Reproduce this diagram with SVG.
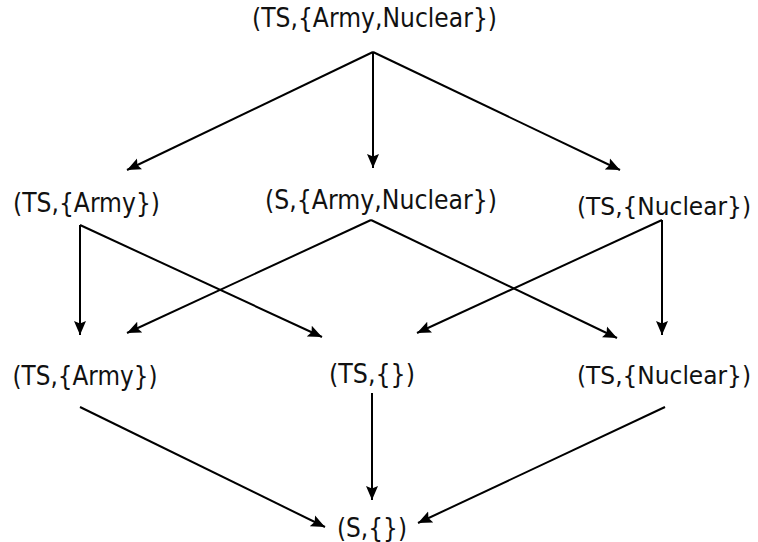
<svg xmlns="http://www.w3.org/2000/svg" width="758" height="542" viewBox="0 0 758 542">
  <style>
    .lbl { font-family: "DejaVu Sans", "Liberation Sans", sans-serif; font-size: 27px; fill: #111; text-anchor: middle; }
    .lbl.edge-side { font-size: 25px; }
    .edge { stroke: #000; stroke-width: 2; fill: none; marker-end: url(#head); }
  </style>
  <defs>
    <marker id="head" markerUnits="userSpaceOnUse" markerWidth="15" markerHeight="13" refX="14" refY="6.5" orient="auto">
      <path d="M0,0.5 L14,6.5 L0,12.5 L2.5,6.5 Z" fill="#000"/>
    </marker>
  </defs>
  <rect width="758" height="542" fill="#fff"/>

  <!-- lattice edges -->
  <g id="edges">
    <line class="edge" x1="373" y1="52" x2="127" y2="170"/>
    <line class="edge" x1="373" y1="52" x2="373" y2="168"/>
    <line class="edge" x1="373" y1="52" x2="620" y2="170"/>

    <line class="edge" x1="80" y1="225" x2="80" y2="335"/>
    <line class="edge" x1="80" y1="225" x2="322" y2="337"/>
    <line class="edge" x1="371" y1="220" x2="127" y2="333"/>
    <line class="edge" x1="371" y1="220" x2="617" y2="338"/>
    <line class="edge" x1="662" y1="220" x2="417" y2="333"/>
    <line class="edge" x1="662" y1="220" x2="662" y2="335"/>

    <line class="edge" x1="80" y1="407" x2="325" y2="527"/>
    <line class="edge" x1="372" y1="393" x2="372" y2="500"/>
    <line class="edge" x1="665" y1="407" x2="418" y2="523"/>
  </g>

  <!-- lattice nodes -->
  <g id="n-ts-army-nuclear"><text class="lbl" x="374.5" y="27" textLength="245" lengthAdjust="spacingAndGlyphs">(TS,{Army,Nuclear})</text></g>
  <g id="n-ts-army-1"><text class="lbl" x="86.5" y="212" textLength="147" lengthAdjust="spacingAndGlyphs">(TS,{Army})</text></g>
  <g id="n-s-army-nuclear"><text class="lbl" x="381" y="209" textLength="232" lengthAdjust="spacingAndGlyphs">(S,{Army,Nuclear})</text></g>
  <g id="n-ts-nuclear-1"><text class="lbl edge-side" x="664" y="215" textLength="174" lengthAdjust="spacingAndGlyphs">(TS,{Nuclear})</text></g>
  <g id="n-ts-army-2"><text class="lbl" x="85" y="385" textLength="145" lengthAdjust="spacingAndGlyphs">(TS,{Army})</text></g>
  <g id="n-ts-empty"><text class="lbl" x="372" y="383" textLength="86" lengthAdjust="spacingAndGlyphs">(TS,{})</text></g>
  <g id="n-ts-nuclear-2"><text class="lbl edge-side" x="664" y="384" textLength="174" lengthAdjust="spacingAndGlyphs">(TS,{Nuclear})</text></g>
  <g id="n-s-empty"><text class="lbl" x="372" y="537" textLength="70" lengthAdjust="spacingAndGlyphs">(S,{})</text></g>
</svg>
